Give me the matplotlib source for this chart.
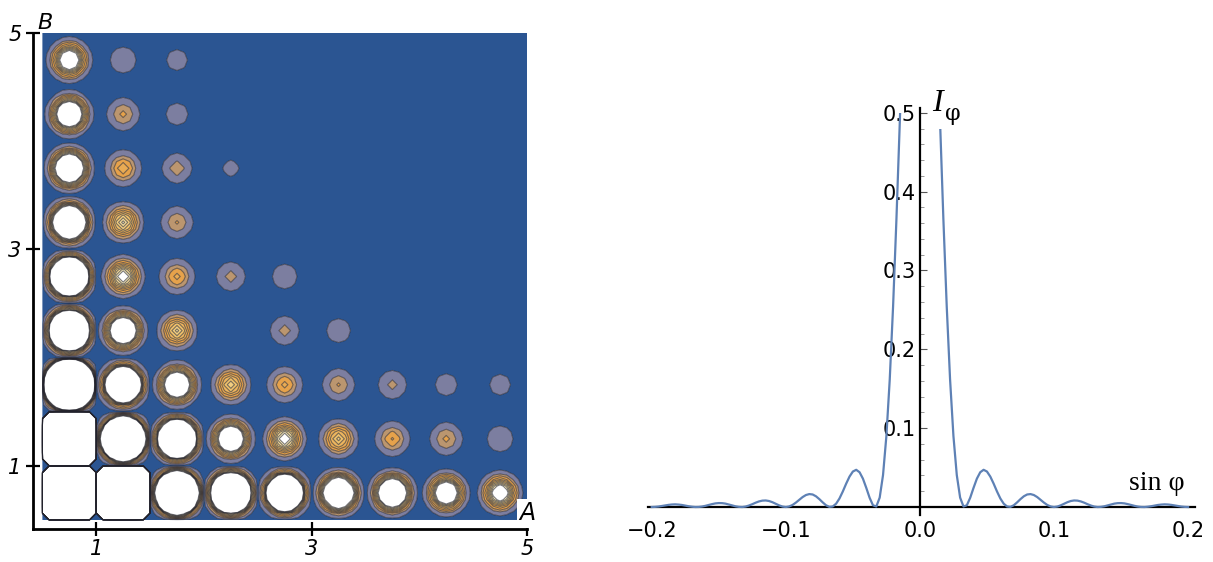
import numpy as np
import matplotlib
matplotlib.use("Agg")
import matplotlib.pyplot as plt
from matplotlib.patches import Rectangle
from matplotlib.ticker import MultipleLocator, FixedLocator, FixedFormatter

# ---------------- data: left panel (peak intensity per grid cell) ----------------
A_centers = [0.75, 1.25, 1.75, 2.25, 2.75, 3.25, 3.75, 4.25, 4.75]
B_centers = [0.75, 1.25, 1.75, 2.25, 2.75, 3.25, 3.75, 4.25, 4.75]
# rows: B = 0.75 (bottom) ... 4.75 (top); columns: A = 0.75 ... 4.75
peak_B075 = [1e5, 3e4, 170, 112, 70, 38, 32, 20, 14.6]
peak_B125 = [3e4, 195, 88, 25, 12.4, 7.5, 4.2, 3.4, 1.97]
peak_B175 = [500, 62, 25, 8, 4.5, 3.2, 2.4, 1.5, 1.4]
peak_B225 = [112, 27, 8.5, 0, 2.5, 1.7, 0, 0, 0]
peak_B275 = [88, 12.4, 4.5, 2.5, 1.8, 0, 0, 0, 0]
peak_B325 = [46, 9.5, 3.2, 0, 0, 0, 0, 0, 0]
peak_B375 = [32, 5, 2.7, 1.1, 0, 0, 0, 0, 0]
peak_B425 = [25, 3.4, 1.5, 0, 0, 0, 0, 0, 0]
peak_B475 = [17, 1.97, 1.4, 0, 0, 0, 0, 0, 0]
contour_levels = [0.75, 2, 3, 4, 5, 6, 7, 8, 9, 10]
left_ticks = [1, 3, 5]

# ---------------- data: right panel (I_phi vs sin phi, |x| side, symmetric) -----
sin_phi_half = [round(0.0025 * k, 4) for k in range(81)]
I_half = [1.0, 0.9816, 0.9281, 0.8442, 0.7368, 0.6150, 0.4881, 0.3654, 0.2546, 0.1617,
          0.0901, 0.0406, 0.0119, 0.0007, 0.0022, 0.0117, 0.0243, 0.0360, 0.0441, 0.0472,
          0.0450, 0.0386, 0.0296, 0.0197, 0.0108, 0.0042, 0.0007, 0.0002, 0.0022, 0.0059,
          0.0100, 0.0136, 0.0159, 0.0164, 0.0152, 0.0126, 0.0091, 0.0056, 0.0026, 0.0007,
          0.0, 0.0006, 0.0021, 0.0041, 0.0061, 0.0076, 0.0083, 0.0081, 0.0071, 0.0055,
          0.0036, 0.0019, 0.0006, 0.0000, 0.0002, 0.0009, 0.0020, 0.0032, 0.0043, 0.0049,
          0.0050, 0.0046, 0.0037, 0.0026, 0.0015, 0.0006, 0.0001, 0.0000, 0.0004, 0.0010,
          0.0018, 0.0026, 0.0031, 0.0034, 0.0032, 0.0027, 0.0020, 0.0013, 0.0006, 0.0002, 0.0]
right_xticks = [-0.2, -0.1, 0.0, 0.1, 0.2]
right_xlabels = ["\u22120.2", "\u22120.1", "0.0", "0.1", "0.2"]
right_yticks = [0.1, 0.2, 0.3, 0.4, 0.5]

# ---------------- figure ----------------
fig = plt.figure(figsize=(12.13, 5.62), dpi=100)
fig.patch.set_facecolor("white")

# ===== left: contour map =====
axL = fig.add_axes([0.02696, 0.0582, 0.4075, 0.8831])
peaks = np.array([peak_B075, peak_B125, peak_B175, peak_B225, peak_B275,
                  peak_B325, peak_B375, peak_B425, peak_B475], dtype=float)
Ac = np.array(A_centers)
Bc = np.array(B_centers)
gx = np.linspace(0.5, 5.0, 73)
gy = np.linspace(0.5, 5.0, 73)
X, Y = np.meshgrid(gx, gy)
ci = np.clip(np.floor((X - 0.5) / 0.5 + 1e-9).astype(int), 0, 8)
ri = np.clip(np.floor((Y - 0.5) / 0.5 + 1e-9).astype(int), 0, 8)
dX = X - Ac[ci]
dY = Y - Bc[ri]
sig = 0.09
kern = np.exp(-(dX ** 2 + dY ** 2) / (2 * sig ** 2)) * \
    np.abs(np.cos(2 * np.pi * dX) * np.cos(2 * np.pi * dY)) ** 0.3
Z = peaks[ri, ci] * kern

band_colors = ["#2B5592", "#7C7EA0", "#BB966F", "#E6A24B", "#E9AB54", "#ECB55F",
               "#EFC16C", "#F2CE82", "#F5DC9C", "#F4E8BC", "#FFFFFF"]
lv = [-1.0] + contour_levels + [1e12]
axL.contourf(X, Y, Z, levels=lv, colors=band_colors, antialiased=True)
axL.contour(X, Y, Z, levels=contour_levels, colors="#22222C", linewidths=0.75, alpha=0.6)

axL.set_xlim(0.41, 5.0)
axL.set_ylim(0.414, 5.0)
for s in ["top", "right"]:
    axL.spines[s].set_visible(False)
for s in ["left", "bottom"]:
    axL.spines[s].set_linewidth(2.0)
axL.set_xticks(left_ticks)
axL.set_yticks(left_ticks)
axL.set_xticklabels([str(t) for t in left_ticks], fontstyle="italic", fontsize=15)
axL.set_yticklabels([str(t) for t in left_ticks], fontstyle="italic", fontsize=15)
axL.tick_params(direction="inout", length=10, width=1.6, pad=3)
axL.tick_params(axis="x", pad=2)
axL.text(0.0095, 1.0, "B", transform=axL.transAxes, fontsize=16, fontstyle="italic",
         ha="left", va="bottom")
axL.text(5.0, 0.56, "A", fontsize=17, fontstyle="italic", ha="center", va="center",
         bbox=dict(facecolor="white", edgecolor="none", pad=1.5), clip_on=False, zorder=10)

# ===== right: intensity curve =====
axR = fig.add_axes([0.5342, 0.0838, 0.4510, 0.7240])
xh = np.array(sin_phi_half)
ih = np.array(I_half)
x_full = np.concatenate([-xh[::-1], xh[1:]])
i_full = np.concatenate([ih[::-1], ih[1:]])
line, = axR.plot(x_full, i_full, color="#5E81B5", lw=1.6, zorder=3)
line.set_clip_path(Rectangle((-1, -1), 2, 1.5, transform=axR.transData))

axR.set_xlim(-0.2028, 0.2052)
axR.set_ylim(-0.01, 0.506)
axR.spines["left"].set_position(("data", 0))
axR.spines["bottom"].set_position(("data", 0))
axR.spines["top"].set_visible(False)
axR.spines["right"].set_visible(False)
axR.spines["left"].set_linewidth(1.6)
axR.spines["bottom"].set_linewidth(1.6)
axR.xaxis.set_major_locator(FixedLocator(right_xticks))
axR.xaxis.set_major_formatter(FixedFormatter(right_xlabels))
axR.yaxis.set_major_locator(FixedLocator(right_yticks))
axR.yaxis.set_minor_locator(MultipleLocator(0.02))
axR.tick_params(axis="x", which="both", length=0, pad=10, labelsize=15)
axR.tick_params(axis="y", which="major", direction="in", length=5, width=0.8,
                pad=3, labelsize=15, color="#555555")
axR.tick_params(axis="y", which="minor", direction="in", length=3, width=0.6, color="#888888")

# white patch hiding the top of the right branch behind the label (as in the source)
axR.add_patch(Rectangle((0.008, 0.479), 0.026, 0.04, facecolor="white", edgecolor="none",
                        zorder=5, clip_on=False))
axR.text(0.0090, 0.512, "I", fontsize=23, fontstyle="italic", family="Liberation Serif",
         ha="left", va="center", zorder=6)
axR.text(0.0185, 0.499, "\u03c6", fontsize=16, family="DejaVu Serif",
         ha="left", va="center", zorder=7)
axR.text(0.1767, 0.030, "sin \u03c6", fontsize=20, family="Liberation Serif",
         ha="center", va="center", zorder=6)

fig.savefig("out.png", dpi=100, facecolor="white")
